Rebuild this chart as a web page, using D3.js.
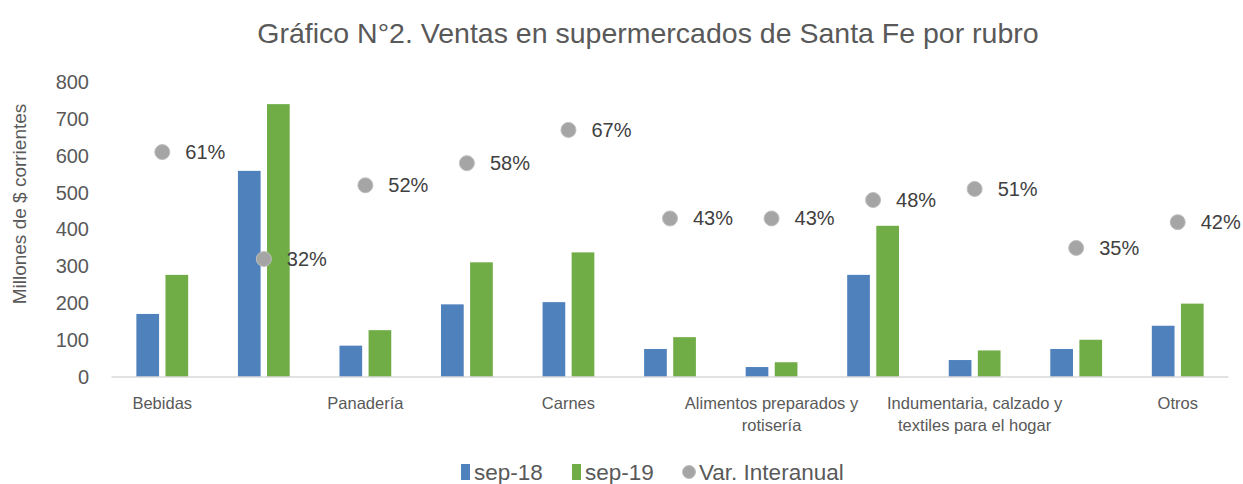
<!DOCTYPE html>
<meta charset="utf-8">
<html>
<head>
  <script src="https://d3js.org/d3.v7.min.js"></script>
  <style>
    body { margin: 0; background: #fff; }
    text { font-family: "Liberation Sans", Arial, sans-serif; fill: #595959; }
  </style>
</head>
<body>
<script>
// datos
const rubros = [
  "Bebidas", "Almacén", "Panadería", "Lácteos", "Carnes",
  "Verdulería y frutería", "Alimentos preparados y rotisería",
  "Artículos de limpieza y perfumería",
  "Indumentaria, calzado y textiles para el hogar",
  "Electrónicos y artículos para el hogar", "Otros"
];
const sep18 = [171, 559, 85, 197, 203, 76, 27, 277, 46, 76, 139];
const sep19 = [277, 740, 127, 311, 338, 108, 40, 410, 72, 101, 199];
const varInteranual = [61, 32, 52, 58, 67, 43, 43, 48, 51, 35, 42];
const yTicks = [0, 100, 200, 300, 400, 500, 600, 700, 800];
const series = ["sep-18", "sep-19"];
const colores = { "sep-18": "#4f81bd", "sep-19": "#70ad47" };

const W = 1243, H = 484;
const svg = d3.select("body").append("svg").attr("width", W).attr("height", H);

const x = d3.scaleBand().domain(rubros).range([111.5, 1228.5])
  .paddingInner(0.49).paddingOuter(0.245);
const xs = d3.scaleBand().domain(series).range([0, x.bandwidth()]).paddingInner(0.22);
const y = d3.scaleLinear().domain([0, 800]).range([377, 82]);
const y2 = d3.scaleLinear().domain([0, 80]).range([377, 82]); // eje secundario oculto

// titulo
svg.append("text").attr("x", 648).attr("y", 43).attr("text-anchor", "middle")
  .style("font-size", "28.5px").text("Gráfico N°2. Ventas en supermercados de Santa Fe por rubro");

// eje y
const yAxis = svg.append("g").attr("transform", "translate(89,0)")
  .call(d3.axisLeft(y).tickValues(yTicks).tickSize(0).tickPadding(0));
yAxis.select(".domain").remove();
yAxis.selectAll("text").style("font-size", "20px").attr("fill", "#595959")
  .attr("font-family", null);

svg.append("text").attr("transform", "translate(26,204) rotate(-90)")
  .attr("text-anchor", "middle").style("font-size", "19px").text("Millones de $ corrientes");

// barras
const datos = rubros.map((r, i) => ({ rubro: r, "sep-18": sep18[i], "sep-19": sep19[i], v: varInteranual[i] }));
const grupos = svg.selectAll("g.rubro").data(datos).join("g")
  .attr("class", "rubro").attr("transform", d => `translate(${x(d.rubro)},0)`);
grupos.selectAll("rect").data(d => series.map(s => ({ s, val: d[s] }))).join("rect")
  .attr("x", d => xs(d.s)).attr("width", xs.bandwidth())
  .attr("y", d => y(d.val)).attr("height", d => y(0) - y(d.val))
  .attr("fill", d => colores[d.s]);

// linea base
svg.append("line").attr("x1", 111.5).attr("x2", 1228.5).attr("y1", 377).attr("y2", 377)
  .attr("stroke", "#d9d9d9").attr("stroke-width", 1.5);

// etiquetas de categoria (una sí, una no)
const xAxis = svg.append("g");
rubros.forEach((r, i) => {
  if (i % 2) return;
  const cx = x(r) + x.bandwidth() / 2;
  const lineas = r === "Alimentos preparados y rotisería" ? ["Alimentos preparados y", "rotisería"]
    : r.startsWith("Indumentaria") ? ["Indumentaria, calzado y", "textiles para el hogar"] : [r];
  const t = xAxis.append("text").attr("x", cx).attr("y", 409).attr("text-anchor", "middle")
    .style("font-size", "16.5px");
  lineas.forEach((l, k) => t.append("tspan").attr("x", cx).attr("dy", k ? 22 : 0).text(l));
});

// var. interanual
const pts = svg.append("g");
datos.forEach(d => {
  const cx = x(d.rubro) + x.bandwidth() / 2;
  pts.append("circle").attr("cx", cx).attr("cy", y2(d.v)).attr("r", 7.5)
    .attr("fill", "#a5a5a5").attr("stroke", "#bfbfbf").attr("stroke-width", 1);
  pts.append("text").attr("x", cx + 23).attr("y", y2(d.v)).attr("dy", "0.35em")
    .style("font-size", "20px").style("fill", "#404040").text(d.v + "%");
});

// leyenda
const ley = svg.append("g").attr("transform", "translate(0,472)");
const items = [
  { t: "sep-18", x: 461, tipo: "rect", c: colores["sep-18"] },
  { t: "sep-19", x: 572, tipo: "rect", c: colores["sep-19"] },
  { t: "Var. Interanual", x: 683, tipo: "circle", c: "#a5a5a5" }
];
items.forEach(it => {
  if (it.tipo === "rect") ley.append("rect").attr("x", it.x).attr("y", -8).attr("width", 9).attr("height", 16).attr("fill", it.c);
  else ley.append("circle").attr("cx", it.x + 6).attr("cy", 0).attr("r", 6.5).attr("fill", it.c).attr("stroke", "#bfbfbf");
  ley.append("text").attr("x", it.x + (it.tipo === "rect" ? 13 : 16)).attr("y", 0).attr("dy", "0.35em")
    .style("font-size", "22.5px").text(it.t);
});
</script>
</body>
</html>
